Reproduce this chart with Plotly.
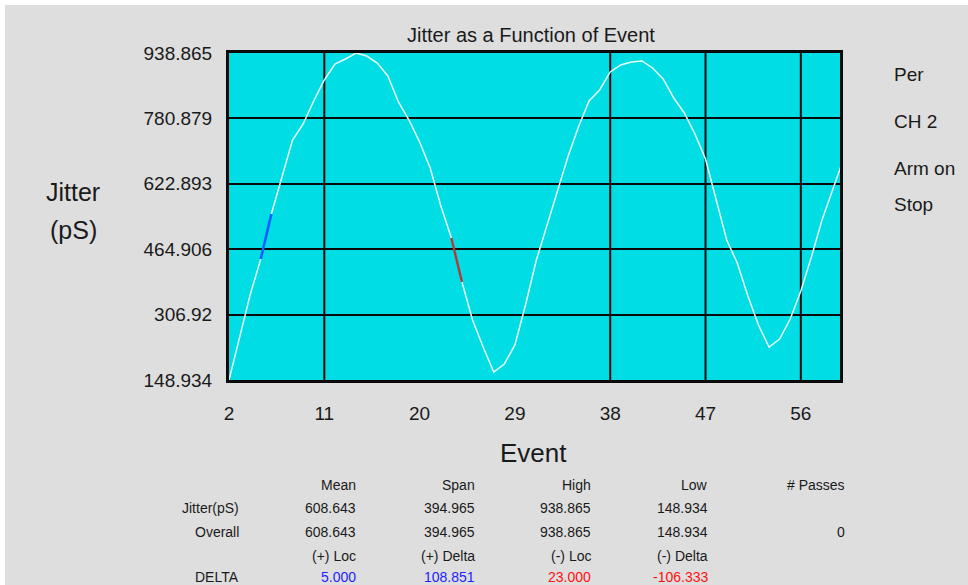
import plotly.graph_objects as go

# ---------------- data ----------------
events = list(range(2, 61))
jitter_ps = [
    148.934, 255.0, 355.0, 441.2, 550.1, 639.3, 728.7, 767.4, 822.9, 873.7,
    912.3, 924.4, 938.865, 931.6, 914.7, 883.3, 820.5, 777.0, 723.9, 661.1,
    570.0, 491.9, 385.6, 293.9, 228.6, 168.3, 187.6, 233.5, 330.1, 436.4,
    520.9, 603.1, 687.6, 760.1, 822.9, 849.5, 893.0, 909.9, 917.2, 919.6,
    902.7, 876.1, 830.2, 793.9, 743.2, 682.8, 581.4, 487.2, 431.6, 351.9,
    281.8, 228.6, 248.0, 296.3, 363.9, 446.1, 535.5, 610.3, 680.4,
]

y_tick_vals = [148.934, 306.92, 464.906, 622.893, 780.879, 938.865]
y_tick_text = ["148.934", "306.92", "464.906", "622.893", "780.879", "938.865"]
x_tick_vals = [2, 11, 20, 29, 38, 47, 56]
x_grid_events = [11, 38, 47, 56]

plus_loc = 5      # (+) Loc
minus_loc = 23    # (-) Loc

side_labels = ["Per", "CH 2", "Arm on", "Stop"]

table_headers = ["", "Mean", "Span", "High", "Low", "# Passes"]
row_jitter = ["Jitter(pS)", "608.643", "394.965", "938.865", "148.934", ""]
row_overall = ["Overall", "608.643", "394.965", "938.865", "148.934", "0"]
row_delta_hdr = ["", "(+) Loc", "(+) Delta", "(-) Loc", "(-) Delta", ""]
row_delta = ["DELTA", "5.000", "108.851", "23.000", "-106.333", ""]

# ---------------- layout helpers (page pixel coords) ----------------
PAGE_W, PAGE_H = 968, 585
OX, OY = 5, 5                      # white page border at top / left
W, H = PAGE_W - OX, PAGE_H - OY    # figure size
L, R, T, B = 229, 840, 53, 380     # plot area in page pixels
PW, PH = R - L, B - T


def px(xp):
    return (xp - L) / PW


def py(yp):
    return (B - yp) / PH


FONT = "Arial, Liberation Sans, sans-serif"
TXT = "#1a1a1a"

fig = go.Figure()

fig.add_trace(go.Scatter(
    x=events, y=jitter_ps, mode="lines",
    line=dict(color="#eaffff", width=1.5),
    showlegend=False, hoverinfo="x+y",
))

i_p = events.index(plus_loc)
fig.add_trace(go.Scatter(
    x=events[i_p:i_p + 2], y=jitter_ps[i_p:i_p + 2], mode="lines",
    line=dict(color="#1060ff", width=2.6), showlegend=False,
))
i_m = events.index(minus_loc)
fig.add_trace(go.Scatter(
    x=events[i_m:i_m + 2], y=jitter_ps[i_m:i_m + 2], mode="lines",
    line=dict(color="#b03a3a", width=2.4), showlegend=False,
))

shapes = []
for ev in x_grid_events:
    shapes.append(dict(type="line", xref="x", yref="paper", x0=ev, x1=ev,
                       y0=0, y1=1, line=dict(color="#0a0a0a", width=2),
                       layer="below"))

ann = []
ann.append(dict(text="Jitter as a Function of Event", xref="paper", yref="paper",
                x=0.5 - 4 / PW, y=py(35), showarrow=False, xanchor="center",
                yanchor="middle", font=dict(family=FONT, size=20, color=TXT)))
ann.append(dict(text="Event", xref="paper", yref="paper", x=px(533), y=py(453),
                showarrow=False, xanchor="center", yanchor="middle",
                font=dict(family=FONT, size=26, color=TXT)))
ann.append(dict(text="Jitter", xref="paper", yref="paper", x=px(73), y=py(192),
                showarrow=False, xanchor="center", yanchor="middle",
                font=dict(family=FONT, size=25, color=TXT)))
ann.append(dict(text="(pS)", xref="paper", yref="paper", x=px(73), y=py(230),
                showarrow=False, xanchor="center", yanchor="middle",
                font=dict(family=FONT, size=25, color=TXT)))
for lbl, yp in zip(side_labels, [75, 121, 168, 205]):
    ann.append(dict(text=lbl, xref="paper", yref="paper", x=px(892), y=py(yp),
                    showarrow=False, xanchor="left", yanchor="middle",
                    font=dict(family=FONT, size=19, color=TXT)))

col_right = [241, 358, 477, 593, 710, 847]
rows = [table_headers, row_jitter, row_overall, row_delta_hdr, row_delta]
row_y = [485, 508, 532, 556, 577]
for ri, (row, yp) in enumerate(zip(rows, row_y)):
    for ci, (cell, xr) in enumerate(zip(row, col_right)):
        if not cell:
            continue
        color = TXT
        if ri == 4 and ci in (1, 2):
            color = "#2222ff"
        elif ri == 4 and ci in (3, 4):
            color = "#ff1010"
        ann.append(dict(text=cell, xref="paper", yref="paper", x=px(xr), y=py(yp),
                        showarrow=False, xanchor="right", yanchor="middle",
                        font=dict(family=FONT, size=14, color=color)))

fig.update_layout(
    width=W, height=H,
    margin=dict(l=L - OX, r=PAGE_W - R, t=T - OY, b=PAGE_H - B, pad=0),
    paper_bgcolor="#dedede",
    plot_bgcolor="#00dde5",
    shapes=shapes,
    annotations=ann,
    showlegend=False,
    xaxis=dict(range=[2, 59.7], tickvals=x_tick_vals,
               ticktext=[str(v) for v in x_tick_vals],
               showgrid=False, zeroline=False,
               showline=True, linecolor="#0a0a0a", linewidth=3, mirror=True,
               ticks="", ticklabelstandoff=14,
               tickfont=dict(family=FONT, size=19, color=TXT)),
    yaxis=dict(range=[y_tick_vals[0], y_tick_vals[-1]], tickvals=y_tick_vals,
               ticktext=y_tick_text,
               showgrid=True, gridcolor="#0a0a0a", gridwidth=2, zeroline=False,
               showline=True, linecolor="#0a0a0a", linewidth=3, mirror=True,
               ticks="", ticklabelstandoff=10,
               tickfont=dict(family=FONT, size=19, color=TXT)),
)

fig.write_html(
    "out.html",
    config={"displayModeBar": False},
    post_script=(
        "document.body.style.margin='0';"
        "document.body.style.padding='%dpx 0 0 %dpx';"
        "document.body.style.background='white';"
        "document.body.style.overflow='hidden';" % (OY, OX)
    ),
)
